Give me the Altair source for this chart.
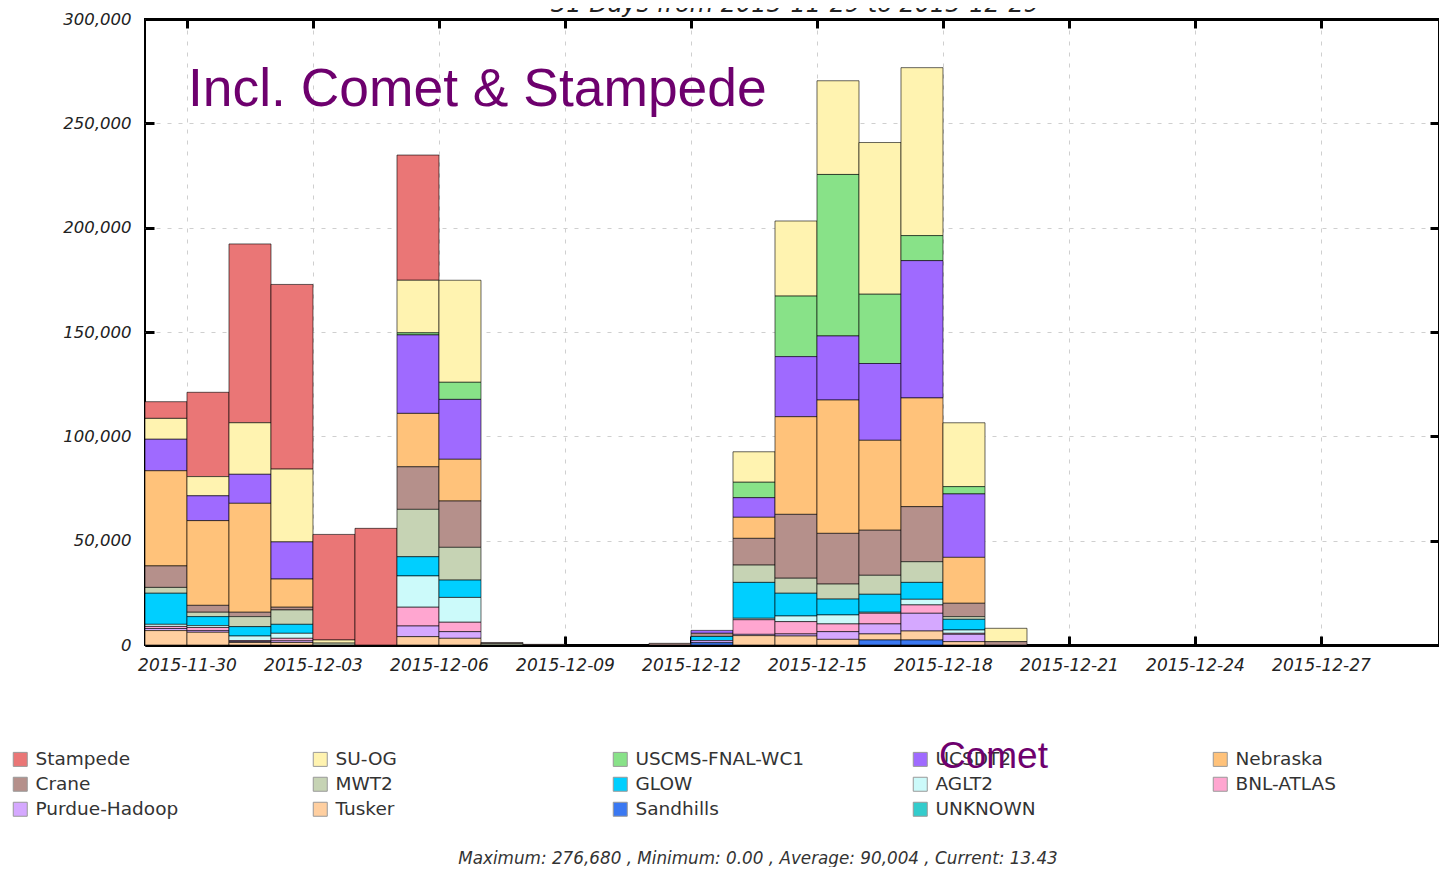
import altair as alt
import pandas as pd

# ---------------- data ----------------
dates = ["2015-11-29", "2015-11-30", "2015-12-01", "2015-12-02", "2015-12-03", "2015-12-04",
         "2015-12-05", "2015-12-06", "2015-12-07", "2015-12-08", "2015-12-09", "2015-12-10",
         "2015-12-11", "2015-12-12", "2015-12-13", "2015-12-14", "2015-12-15", "2015-12-16",
         "2015-12-17", "2015-12-18", "2015-12-19", "2015-12-20", "2015-12-21", "2015-12-22",
         "2015-12-23", "2015-12-24", "2015-12-25", "2015-12-26", "2015-12-27", "2015-12-28",
         "2015-12-29"]

tick_labels = ["2015-11-30", "2015-12-03", "2015-12-06", "2015-12-09", "2015-12-12",
               "2015-12-15", "2015-12-18", "2015-12-21", "2015-12-24", "2015-12-27"]
y_ticks = [0, 50000, 100000, 150000, 200000, 250000, 300000]

sites = ["Stampede", "SU-OG", "USCMS-FNAL-WC1", "UCSDT2", "Nebraska",
         "Crane", "MWT2", "GLOW", "AGLT2", "BNL-ATLAS",
         "Purdue-Hadoop", "Tusker", "Sandhills", "UNKNOWN"]
colors = ["#EA7676", "#FFF3B0", "#88E288", "#9F6AFF", "#FFC27A",
          "#B5908B", "#C6D3B4", "#00CFFF", "#CCFAFA", "#FFA6D0",
          "#D5A8FF", "#FFCFA0", "#3A78F2", "#33CCCC"]

stampede = [8000, 40400, 85700, 88500, 50600, 55900, 60000, 0, 0, 0, 0, 0, 0, 0, 0, 0,
            0, 0, 0, 0, 0, 0, 0, 0, 0, 0, 0, 0, 0, 0, 0]
su_og = [10000, 9200, 24700, 34900, 1500, 0, 25200, 48900, 0, 0, 0, 0, 0, 0, 14600, 36000,
         44900, 72700, 80480, 30600, 6400, 0, 0, 0, 0, 0, 0, 0, 0, 0, 13.43]
uscms = [0, 0, 0, 0, 0, 0, 1000, 8200, 0, 0, 0, 0, 0, 0, 7400, 29000,
         77400, 33200, 12000, 3500, 0, 0, 0, 0, 0, 0, 0, 0, 0, 0, 0]
ucsdt2 = [15100, 11900, 13900, 17800, 0, 0, 37600, 28700, 0, 0, 0, 0, 0, 1400, 9400, 28800,
          30700, 36800, 65800, 30400, 0, 0, 0, 0, 0, 0, 0, 0, 0, 0, 0]
nebraska = [45600, 40600, 52200, 13500, 0, 0, 25600, 20000, 0, 0, 0, 0, 0, 0, 10100, 46800,
            63900, 43100, 52100, 22000, 0, 0, 0, 0, 0, 0, 0, 0, 0, 0, 0]
crane = [10300, 3300, 2100, 1300, 0, 0, 20400, 22200, 600, 300, 0, 0, 800, 1500, 12800, 30600,
         24300, 21600, 26400, 6400, 1600, 0, 0, 0, 0, 0, 0, 0, 0, 0, 0]
mwt2 = [2800, 2100, 4800, 6900, 900, 0, 22700, 15700, 600, 0, 0, 0, 0, 0, 8300, 7200,
        7200, 9100, 9900, 1300, 0, 0, 0, 0, 0, 0, 0, 0, 0, 0, 0]
glow = [14900, 4300, 4500, 4300, 0, 0, 9200, 8300, 0, 0, 0, 0, 0, 2000, 17200, 10900,
        7600, 8600, 8100, 5100, 0, 0, 0, 0, 0, 0, 0, 0, 0, 0, 0]
aglt2 = [1000, 900, 2200, 2400, 0, 0, 15000, 11900, 0, 0, 0, 0, 0, 0, 700, 2700,
         4300, 500, 2700, 1600, 0, 0, 0, 0, 0, 0, 0, 0, 0, 0, 0]
bnl_atlas = [1000, 1500, 400, 1200, 0, 0, 9000, 4500, 0, 0, 0, 0, 0, 0, 7000, 5900,
             3700, 5100, 4000, 500, 0, 0, 0, 0, 0, 0, 0, 0, 0, 0, 0]
purdue = [1000, 800, 500, 800, 0, 0, 5100, 3200, 0, 0, 0, 0, 0, 1000, 600, 1000,
          3700, 4800, 8500, 3500, 0, 0, 0, 0, 0, 0, 0, 0, 0, 0, 0]
tusker = [6900, 6100, 1200, 1200, 0, 0, 4000, 3200, 0, 0, 0, 0, 0, 0, 4500, 4300,
          2700, 2900, 4300, 1600, 0, 0, 0, 0, 0, 0, 0, 0, 0, 0, 0]
sandhills = [0, 0, 0, 0, 0, 0, 0, 0, 0, 0, 0, 0, 0, 1100, 0, 0,
             0, 2400, 2400, 0, 0, 0, 0, 0, 0, 0, 0, 0, 0, 0, 0]
unknown = [0, 0, 0, 0, 0, 0, 0, 0, 0, 0, 0, 0, 0, 0, 0, 0,
           0, 0, 0, 0, 0, 0, 0, 0, 0, 0, 0, 0, 0, 0, 0]

series = [stampede, su_og, uscms, ucsdt2, nebraska, crane, mwt2, glow, aglt2,
          bnl_atlas, purdue, tusker, sandhills, unknown]

title_text = "31 Days from 2015-11-29 to 2015-12-29"
footer_text = "Maximum: 276,680 , Minimum: 0.00 , Average: 90,004 , Current: 13.43"
note_text = "Incl. Comet & Stampede"
comet_text = "Comet"

# ---------------- table ----------------
rows = []
for i, d in enumerate(dates):
    for r, (s, vals) in enumerate(zip(sites, series)):
        if vals[i] > 0:
            rows.append({"day": i, "date": d, "site": s, "rank": r, "value": vals[i]})
df = pd.DataFrame(rows)

tick_pos = [dates.index(t) for t in tick_labels]
label_expr = "[" + ",".join("'%s'" % d for d in dates) + "][datum.value]"

FONT = "DejaVu Sans"
PURPLE = "#6E006E"

# the right end of the plot is cropped by the page edge, as in the reference
xscale = alt.Scale(domain=[0, 30.81], nice=False, zero=False)
yscale = alt.Scale(domain=[0, 300000], nice=False)

base = alt.Chart(df).transform_calculate(d1="datum.day + 1").transform_stack(
    stack="value", groupby=["day"], as_=["y0", "y1"],
    sort=[alt.SortField("rank", order="descending")])

bars = base.mark_bar(stroke="black", strokeWidth=1, strokeOpacity=0.6, clip=True).encode(
    x=alt.X("day:Q", scale=xscale,
            axis=alt.Axis(orient="bottom", offset=-9, values=tick_pos, labelExpr=label_expr,
                          domain=False, ticks=True, tickSize=9, tickWidth=3, tickColor="black",
                          grid=True, gridColor="#cfcfcf", gridDash=[4, 7], gridWidth=1,
                          labelFont=FONT, labelFontStyle="italic", labelFontSize=17,
                          labelColor="#222", labelPadding=12, labelFlush=False,
                          labelOverlap=False, title=None)),
    x2="d1:Q",
    y=alt.Y("y0:Q", scale=yscale,
            axis=alt.Axis(orient="left", offset=-9, values=y_ticks,
                          labelExpr="format(datum.value, ',')",
                          domain=False, ticks=True, tickSize=9, tickWidth=3, tickColor="black",
                          grid=True, gridColor="#cfcfcf", gridDash=[4, 7], gridWidth=1,
                          labelFont=FONT, labelFontStyle="italic", labelFontSize=16.5,
                          labelColor="#222", labelPadding=14, labelFlush=False,
                          labelOverlap=False, title=None)),
    y2="y1:Q",
    color=alt.Color("site:N", scale=alt.Scale(domain=sites, range=colors),
                    legend=alt.Legend(title=None, orient="none", legendX=-134, legendY=731,
                                      columns=5, direction="horizontal",
                                      symbolType="square", symbolSize=196,
                                      symbolStrokeColor="#999", symbolStrokeWidth=1,
                                      symbolOpacity=1, labelFont=FONT, labelFontSize=18.5,
                                      labelColor="#333", labelOffset=6, rowPadding=6,
                                      columnPadding=106, gridAlign="all", padding=0,
                                      labelLimit=400)),
)

ticks_tr = base.mark_bar(opacity=0).encode(
    x=alt.X("day:Q", scale=xscale,
            axis=alt.Axis(orient="top", offset=-9, values=tick_pos, labels=False, domain=False,
                          grid=False, ticks=True, tickSize=9, tickWidth=3, tickColor="black",
                          title=None)),
    x2="d1:Q",
    y=alt.Y("y0:Q", scale=yscale,
            axis=alt.Axis(orient="right", offset=-9, values=y_ticks, labels=False, domain=False,
                          grid=False, ticks=True, tickSize=9, tickWidth=3, tickColor="black",
                          title=None)),
    y2="y1:Q",
)

frame_bottom = base.mark_bar(opacity=0).encode(
    x=alt.X("day:Q", scale=xscale,
            axis=alt.Axis(orient="bottom", domain=True, domainWidth=3, domainColor="black",
                          ticks=False, labels=False, grid=False, title=None)),
    x2="d1:Q",
    y=alt.Y("y0:Q", scale=yscale, axis=None),
    y2="y1:Q",
)

frame_top = base.mark_bar(opacity=0).encode(
    x=alt.X("day:Q", scale=xscale,
            axis=alt.Axis(orient="top", domain=True, domainWidth=3, domainColor="black",
                          ticks=False, labels=False, grid=False, title=None)),
    x2="d1:Q",
    y=alt.Y("y0:Q", scale=yscale, axis=None),
    y2="y1:Q",
)

title_mark = alt.Chart(pd.DataFrame({"t": [title_text]})).mark_text(
    font=FONT, fontStyle="italic", fontSize=24, color="#222", align="center",
    baseline="alphabetic").encode(text="t:N", x=alt.value(650), y=alt.value(-7))

note_mark = alt.Chart(pd.DataFrame({"t": [note_text]})).mark_text(
    font="Liberation Sans", fontSize=53.4, color=PURPLE, align="left",
    baseline="alphabetic").encode(text="t:N", x=alt.value(43), y=alt.value(87))

footer_mark = alt.Chart(pd.DataFrame({"t": [footer_text]})).mark_text(
    font=FONT, fontStyle="italic", fontSize=16.8, color="#333", align="center",
    baseline="alphabetic").encode(text="t:N", x=alt.value(613), y=alt.value(845))

chart = alt.layer(bars, ticks_tr, frame_bottom, frame_top,
                  title_mark, note_mark, footer_mark).resolve_axis(
    x="independent", y="independent"
).properties(
    width=1294, height=626,
    autosize=alt.AutoSizeParams(type="none"),
    padding={"left": 137, "top": 11, "right": 0, "bottom": 222},
    title=alt.TitleParams(comet_text, orient="bottom", anchor="start", frame="group",
                          offset=0, dx=794, dy=-100, baseline="alphabetic",
                          font="Liberation Sans", fontSize=37, fontWeight="normal",
                          color=PURPLE),
).configure_view(stroke="black", strokeWidth=2)

chart.save("out.html", embed_options={"renderer": "svg", "actions": False})
